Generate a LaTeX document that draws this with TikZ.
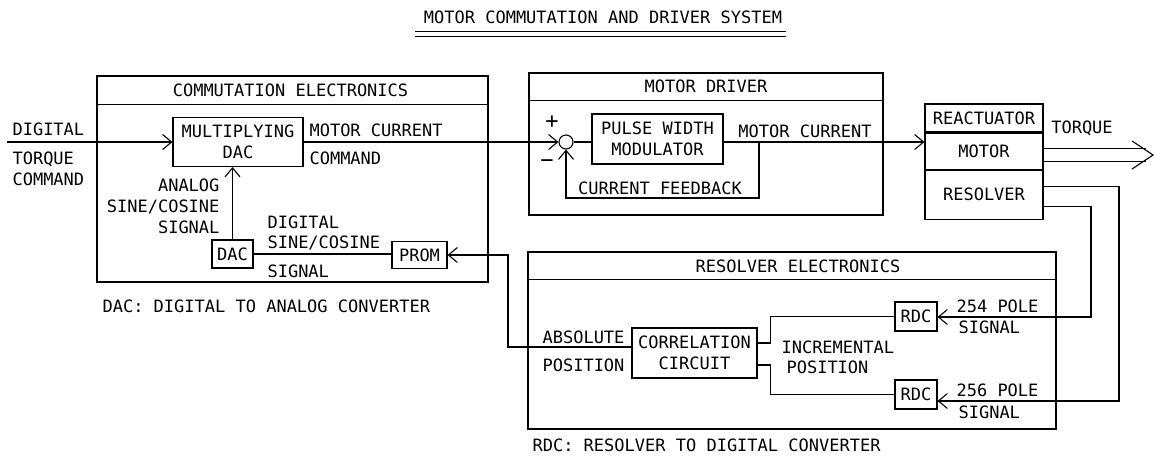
\documentclass[tikz,border=0pt]{standalone}
\usepackage{fontspec}
\newfontfamily\plotfont{DejaVu Sans Mono}
\usetikzlibrary{positioning,arrows.meta,calc}
\newcommand{\diagfont}{\plotfont\fontsize{17}{21}\selectfont}
\tikzset{
  frame/.style  ={draw, rectangle, inner sep=0pt},
  blk/.style    ={draw, rectangle, align=center, inner sep=0pt, font=\diagfont},
  lbl/.style    ={inner sep=1pt, font=\diagfont},
  sign/.style   ={inner sep=0pt, font=\plotfont\fontsize{22}{22}\selectfont},
  arr/.style    ={-{Straight Barb[length=9pt,width=15pt]}},
  torque/.style ={double, double distance=12pt},
}

\begin{document}
\begin{tikzpicture}[x=1pt, y=-1pt, line width=1.1pt]
  \useasboundingbox (0,0) rectangle (1155,455);

  \node[lbl] (title) at (603,17) {MOTOR COMMUTATION AND DRIVER SYSTEM};
  \draw[double, double distance=4pt, line width=0.9pt] ($(title.south west)+(-7,9)$) -- ($(title.south east)+(2,9)$);

  \node[frame, minimum width=391, minimum height=206] (ce) at (292.5,179) {};
  \draw ([yshift=-29pt]ce.north west) -- ([yshift=-29pt]ce.north east);
  \node[lbl] at ($(ce.north)+(-2,15)$) {COMMUTATION ELECTRONICS};
  \node[blk, minimum width=130, minimum height=49] (mdac) at (238,142) {MULTIPLYING\\DAC};
  \node[blk, minimum width=41, minimum height=28] (dac) at (232.5,254) {DAC};
  \node[blk, minimum width=55, minimum height=27] (prom) at (419.5,255) {PROM};
  \coordinate (din) at (7,142);
  \draw[arr] (din) -- (din -| mdac.west);
  \node[lbl, anchor=west] at (11,129) {DIGITAL};
  \node[lbl, anchor=north west, align=left] at (11,150) {TORQUE\\COMMAND};
  \draw[arr] (dac.north) -- (dac.north |- mdac.south);
  \node[lbl, align=right, anchor=east] at (221,206) {ANALOG\\SINE/COSINE\\SIGNAL};
  \draw (dac.east) -- (dac.east -| prom.west);
  \node[lbl, anchor=west] at (266,222) {DIGITAL};
  \node[lbl, anchor=west] at (266,243) {SINE/COSINE};
  \node[lbl, anchor=west] at (266,271) {SIGNAL};
  \node[lbl, anchor=west] at (308,130) {MOTOR CURRENT};
  \node[lbl, anchor=west] at (308,158) {COMMAND};
  \node[lbl, anchor=west] at (101,306) {DAC: DIGITAL TO ANALOG CONVERTER};

  \node[frame, minimum width=354, minimum height=142] (md) at (706,144) {};
  \draw ([yshift=-28pt]md.north west) -- ([yshift=-28pt]md.north east);
  \node[lbl] at ($(md.north)+(0,14)$) {MOTOR DRIVER};
  \node[circle, draw, minimum size=14pt, inner sep=0pt] (sum) at (566,142) {};
  \node[sign] at (552,122) {+};
  \node[sign] at (547,164) {−};
  \node[blk, minimum width=131, minimum height=50] (pwm) at (657.5,139) {PULSE WIDTH\\MODULATOR};
  \draw[arr] (mdac.east) -- (sum.west);
  \draw (sum.east) -- (sum.east -| pwm.west);

  \node[blk, minimum width=118, minimum height=28] (reac) at (984,118) {REACTUATOR};
  \node[blk, minimum width=118, minimum height=36, below=0pt of reac] (motor) {MOTOR};
  \node[blk, minimum width=118, minimum height=49, below=0pt of motor] (resolv) {RESOLVER};
  \coordinate (fb) at (759,198);
  \draw[arr] (pwm.east |- sum) -- (motor.west |- sum);
  \draw[arr] (fb |- sum) -- (fb) -| (sum.south);
  \node[lbl] at (660,188) {CURRENT FEEDBACK};
  \node[lbl] at (805,131) {MOTOR CURRENT};
  \coordinate (tq) at (1146,155);
  \coordinate (tqtip) at (1153,155);
  \draw[torque] (motor.east |- tq) -- (tq);
  \draw ($(tqtip)+(-21,-14)$) -- (tqtip) -- ($(tqtip)+(-21,14)$);
  \node[lbl] at (1082,128) {TORQUE};

  \node[frame, minimum width=528, minimum height=177] (re) at (792,340.5) {};
  \draw ([yshift=-28pt]re.north west) -- ([yshift=-28pt]re.north east);
  \node[lbl] at (798,266) {RESOLVER ELECTRONICS};
  \node[blk, minimum width=42, minimum height=29] (rdca) at (916,316.5) {RDC};
  \node[blk, minimum width=42, minimum height=29] (rdcb) at (916,394.5) {RDC};
  \coordinate (r1) at (1119,401);
  \coordinate (r2) at (1091,317);
  \draw[arr] ([yshift=8pt]resolv.east) -| (r1) -- (r1 -| rdcb.east);
  \draw[arr] ([yshift=-12pt]resolv.east) -| (r2) -- (r2 -| rdca.east);
  \node[lbl, anchor=west] at (955,306) {254 POLE};
  \node[lbl, anchor=west] at (957,327) {SIGNAL};
  \node[lbl, anchor=west] at (955,390) {256 POLE};
  \node[lbl, anchor=west] at (957,412) {SIGNAL};
  \node[blk, minimum width=125, minimum height=50] (corr) at (694.5,353) {CORRELATION\\CIRCUIT};
  \draw ([yshift=10pt]corr.east) -- ++(13,0) |- (rdca.west);
  \draw ([yshift=-12pt]corr.east) -- ++(13,0) |- (rdcb.west);
  \node[lbl, anchor=east] at (626,337) {ABSOLUTE};
  \node[lbl, anchor=east] at (626,365) {POSITION};
  \node[lbl, anchor=west] at (780,347) {INCREMENTAL};
  \node[lbl, anchor=west] at (785,367) {POSITION};
  \coordinate (pk) at (508,347);
  \draw[arr] ([yshift=6pt]corr.west) -- (pk) |- (prom.east);
  \node[lbl, anchor=west] at (531,445) {RDC: RESOLVER TO DIGITAL CONVERTER};
\end{tikzpicture}
\end{document}
